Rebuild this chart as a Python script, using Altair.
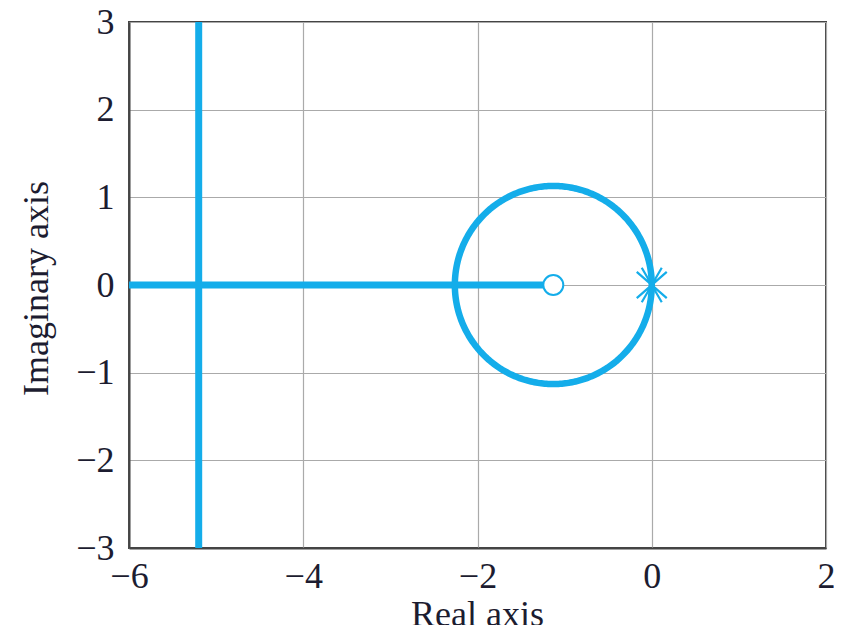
import altair as alt
import numpy as np
import pandas as pd

# ---- data ----
x_ticks = [-6, -4, -2, 0, 2]
y_ticks = [-3, -2, -1, 0, 1, 2, 3]

# vertical branch (far-left asymptote)
vert_x = [-5.2, -5.2]
vert_y = [-3.0, 3.0]

# real-axis branch: from left edge to the zero
horiz_x = [-6.0, -1.13]
horiz_y = [0.0, 0.0]

# circular branch: centred on the zero
circle_center = [-1.13, 0.0]
circle_radius = 1.13

# open-loop zero and (double) pole
zero_x = [-1.13]
zero_y = [0.0]
pole_x = [0.0]
pole_y = [0.0]

BLUE = "#14ADEA"

xs = alt.Scale(domain=[-6, 2], nice=False, zero=False)
ys = alt.Scale(domain=[-3, 3], nice=False, zero=False)

x_enc = alt.X("x:Q", scale=xs, axis=alt.Axis(values=x_ticks, title="Real axis"))
y_enc = alt.Y("y:Q", scale=ys, axis=alt.Axis(values=y_ticks, title="Imaginary axis"))

vert_df = pd.DataFrame({"x": vert_x, "y": vert_y})
horiz_df = pd.DataFrame({"x": horiz_x, "y": horiz_y})

t = np.linspace(0, 2 * np.pi, 361)
circ_df = pd.DataFrame({
    "x": circle_center[0] + circle_radius * np.cos(t),
    "y": circle_center[1] + circle_radius * np.sin(t),
    "o": np.arange(len(t)),
})
zero_df = pd.DataFrame({"x": zero_x, "y": zero_y})
pole_df = pd.DataFrame({"x": pole_x, "y": pole_y})

vert = alt.Chart(vert_df).mark_line(color=BLUE, strokeWidth=7, strokeCap="butt").encode(x=x_enc, y=y_enc)
horiz = alt.Chart(horiz_df).mark_line(color=BLUE, strokeWidth=7, strokeCap="butt").encode(x=x_enc, y=y_enc)
circ = alt.Chart(circ_df).mark_line(color=BLUE, strokeWidth=6.5).encode(
    x=x_enc, y=y_enc, order="o:Q")
zero = alt.Chart(zero_df).mark_point(
    shape="circle", size=400, filled=True, fill="white", stroke=BLUE, strokeWidth=2, opacity=1
).encode(x=x_enc, y=y_enc)

star_path = ("M-0.75,-0.66L0.75,0.66M-0.5,-0.866L0.5,0.866"
             "M-0.75,0.66L0.75,-0.66M-0.5,0.866L0.5,-0.866")
pole = alt.Chart(pole_df).mark_point(
    shape=star_path, size=1600, filled=False, stroke=BLUE, strokeWidth=2.2, opacity=1
).encode(x=x_enc, y=y_enc)

chart = alt.layer(vert, horiz, circ, zero, pole).properties(
    width=697, height=526,
    autosize=alt.AutoSizeParams(type="none"),
    padding={"left": 121, "top": 14, "right": 8, "bottom": 77},
).configure_view(
    stroke="#444444", strokeWidth=2
).configure_axis(
    zindex=1,
    grid=True, gridColor="#AAAAAA", gridWidth=1.2,
    ticks=False,
    domain=True, domainColor="#444444", domainWidth=2,
    labelFlush=False, labelOverlap=False,
    labelFont="Liberation Serif", labelFontSize=36, labelColor="#1C1C30",
    titleFont="Liberation Serif", titleFontSize=36, titleColor="#1C1C30",
    titleFontWeight="normal",
).configure_axisX(
    labelPadding=11, titleX=348, titleY=49, titleBaseline="top", titleAlign="center",
).configure_axisY(
    labelPadding=15, titleX=-93, titleY=266, titleAlign="center", titleBaseline="middle",
)

chart.save("out.html", embed_options={"renderer": "svg", "actions": False})
